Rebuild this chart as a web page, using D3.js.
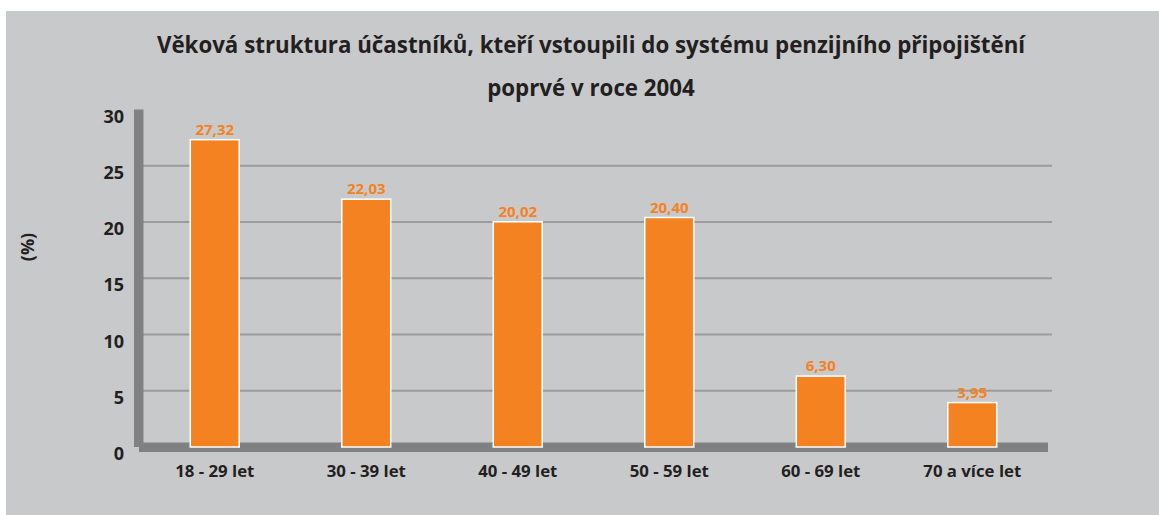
<!DOCTYPE html>
<html>
<head>
<meta charset="utf-8">
<script src="https://cdn.jsdelivr.net/npm/d3@7"></script>
<style>
    body { margin: 0; background: #ffffff; }
    text { font-family: "Open Sans", sans-serif; font-weight: bold; }
</style>
</head>
<body>
<div id="chart"></div>
<script>
var categories = ["18 - 29 let", "30 - 39 let", "40 - 49 let", "50 - 59 let", "60 - 69 let", "70 a více let"];
var values = [27.32, 22.03, 20.02, 20.40, 6.30, 3.95];
var valueLabels = ["27,32", "22,03", "20,02", "20,40", "6,30", "3,95"];
var yTicks = [0, 5, 10, 15, 20, 25, 30];
var titleLines = ["Věková struktura účastníků, kteří vstoupili do systému penzijního připojištění", "poprvé v roce 2004"];

var width = 1159, height = 515;

var svg = d3.select("#chart").append("svg")
    .attr("width", width)
    .attr("height", height);

// grey panel
svg.append("rect")
    .attr("x", 6)
    .attr("y", 11)
    .attr("width", width - 6)
    .attr("height", height - 11)
    .attr("fill", "#c8c9cb");

var x = d3.scaleBand()
    .domain(categories)
    .range([139, 1048])
    .paddingInner(0.677)
    .paddingOuter(0.3385);

var y = d3.scaleLinear()
    .domain([0, 30])
    .range([447, 109.5]);

// gridlines
svg.selectAll("line.grid")
    .data(yTicks.filter(function(d){ return d > 0 && d < 30; }))
    .enter()
    .append("line")
    .attr("class", "grid")
    .attr("x1", 143)
    .attr("x2", 1052)
    .attr("y1", function(d){ return y(d); })
    .attr("y2", function(d){ return y(d); })
    .attr("stroke", "#9a9b9d")
    .attr("stroke-width", 2);

// axis bars (vertical + horizontal, thick grey)
svg.append("rect")
    .attr("x", 134)
    .attr("y", y(30))
    .attr("width", 9.5)
    .attr("height", y(0) - y(30))
    .attr("fill", "#808183");

svg.append("rect")
    .attr("x", 139)
    .attr("y", y(0) - 4.5)
    .attr("width", 1048 - 139)
    .attr("height", 9.5)
    .attr("fill", "#808183");

// y tick labels
svg.selectAll("text.ytick")
    .data(yTicks)
    .enter()
    .append("text")
    .attr("class", "ytick")
    .attr("x", 124)
    .attr("y", function(d){ return y(d) + 13; })
    .attr("text-anchor", "end")
    .attr("font-size", 18)
    .attr("fill", "#231f20")
    .text(function(d){ return d; });

// bars
svg.selectAll("rect.bar")
    .data(values)
    .enter()
    .append("rect")
    .attr("class", "bar")
    .attr("x", function(d,i){ return x(categories[i]); })
    .attr("y", function(d){ return y(d); })
    .attr("width", x.bandwidth())
    .attr("height", function(d){ return y(0) - y(d); })
    .attr("fill", "#f58220")
    .attr("stroke", "#ffffff")
    .attr("stroke-width", 1.5);

// value labels
svg.selectAll("text.val")
    .data(values)
    .enter()
    .append("text")
    .attr("class", "val")
    .attr("x", function(d,i){ return x(categories[i]) + x.bandwidth() / 2; })
    .attr("y", function(d){ return y(d) - 5; })
    .attr("text-anchor", "middle")
    .attr("font-size", 15)
    .attr("font-weight", 600)
    .attr("fill", "#f58220")
    .text(function(d,i){ return valueLabels[i]; });

// category labels
svg.selectAll("text.cat")
    .data(categories)
    .enter()
    .append("text")
    .attr("class", "cat")
    .attr("x", function(d){ return x(d) + x.bandwidth() / 2; })
    .attr("y", 476.5)
    .attr("text-anchor", "middle")
    .attr("font-size", 16.8)
    .attr("fill", "#231f20")
    .text(function(d){ return d; });

// y axis title
svg.append("text")
    .attr("transform", "translate(34,247) rotate(-90)")
    .attr("text-anchor", "middle")
    .attr("font-size", 18)
    .attr("fill", "#231f20")
    .text("(%)");

// chart title
svg.selectAll("text.title")
    .data(titleLines)
    .enter()
    .append("text")
    .attr("class", "title")
    .attr("x", 591)
    .attr("y", function(d,i){ return 53 + i * 42.5; })
    .attr("text-anchor", "middle")
    .attr("font-size", 22.3)
    .attr("fill", "#231f20")
    .text(function(d){ return d; });
</script>
</body>
</html>
